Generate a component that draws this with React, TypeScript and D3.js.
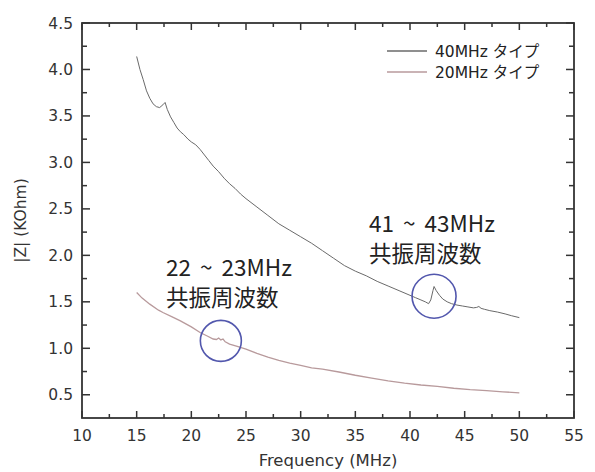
import React from "react";
import * as d3 from "d3";

// 40MHz type impedance curve
const freq40 = [15.0, 15.3, 15.6, 15.9, 16.2, 16.5, 16.8, 17.1, 17.4, 17.6, 17.8, 18.1, 18.4, 18.7, 19.0, 19.3, 19.7, 20.0, 20.4, 20.8, 21.2, 21.6, 22.0, 22.5, 23.0, 23.5, 24.0, 24.5, 25.0, 26.0, 27.0, 28.0, 29.0, 30.0, 31.0, 32.0, 33.0, 34.0, 35.0, 36.0, 37.0, 38.0, 39.0, 40.0, 40.5, 41.0, 41.4, 41.7, 41.9, 42.1, 42.2, 42.4, 42.7, 43.0, 43.4, 43.8, 44.3, 44.8, 45.3, 45.8, 46.1, 46.3, 46.5, 46.8, 47.3, 48.0, 48.7, 49.3, 50.0];
const z40 = [4.14, 4.0, 3.89, 3.77, 3.69, 3.63, 3.6, 3.59, 3.62, 3.645, 3.57, 3.49, 3.43, 3.37, 3.33, 3.3, 3.25, 3.22, 3.19, 3.14, 3.08, 3.02, 2.96, 2.9, 2.83, 2.77, 2.72, 2.66, 2.61, 2.52, 2.43, 2.34, 2.27, 2.2, 2.13, 2.05, 1.97, 1.89, 1.83, 1.78, 1.72, 1.67, 1.62, 1.57, 1.545, 1.52, 1.5, 1.48, 1.52, 1.62, 1.665, 1.62, 1.57, 1.53, 1.5, 1.48, 1.465, 1.455, 1.445, 1.435, 1.44, 1.45, 1.43, 1.42, 1.405, 1.39, 1.37, 1.35, 1.33];

// 20MHz type impedance curve
const freq20 = [15.0, 15.5, 16.2, 17.0, 17.4, 18.2, 19.0, 20.0, 20.8, 21.5, 22.0, 22.3, 22.5, 22.7, 22.9, 23.1, 23.5, 24.2, 25.0, 26.0, 27.0, 28.0, 29.0, 30.0, 31.0, 32.0, 33.5, 35.0, 36.5, 38.0, 39.5, 41.0, 42.5, 44.0, 45.5, 47.0, 48.5, 50.0];
const z20 = [1.6, 1.54, 1.475, 1.41, 1.385, 1.34, 1.295, 1.23, 1.17, 1.13, 1.1, 1.095, 1.11, 1.09, 1.1, 1.07, 1.045, 1.02, 0.99, 0.945, 0.905, 0.87, 0.84, 0.815, 0.79, 0.775, 0.745, 0.71, 0.68, 0.65, 0.625, 0.605, 0.59, 0.57, 0.555, 0.545, 0.532, 0.52];

const seriesNames = ["40MHz タイプ", "20MHz タイプ"];
const seriesColors = ["#6a6a6a", "#b89a9c"];

// resonance circles
const markFreq = [42.2, 22.7];
const markZ = [1.56, 1.08];
const markRadius = [22, 20.5];
const noteTop = ["41 ~ 43MHz", "22 ~ 23MHz"];
const noteBottom = ["共振周波数", "共振周波数"];

const xTicks = [10, 15, 20, 25, 30, 35, 40, 45, 50, 55];
const xMinor = [12.5, 17.5, 22.5, 27.5, 32.5, 37.5, 42.5, 47.5, 52.5];
const yTicks = [0.5, 1.0, 1.5, 2.0, 2.5, 3.0, 3.5, 4.0, 4.5];
const yMinor = [0.75, 1.25, 1.75, 2.25, 2.75, 3.25, 3.75, 4.25];

const W = 595, H = 472;
const left = 82, right = 574, top = 23, bottom = 418;
const axisColor = "#333";
const tickFont = "'DejaVu Sans', Verdana, sans-serif";
const cjkFont = "'Noto Sans CJK JP', sans-serif";

export default function App() {
  const x = d3.scaleLinear().domain([10, 55]).range([left, right]);
  const y = d3.scaleLinear().domain([0.25, 4.5]).range([bottom, top]);

  const path40 = d3.line<number>().x((d) => x(d)).y((_, i) => y(z40[i]))(freq40);
  const path20 = d3.line<number>().x((d) => x(d)).y((_, i) => y(z20[i]))(freq20);

  const noteX = [369, 166];
  const noteY = [232, 276];
  const noteGap = [30, 30];

  return (
    <svg width={W} height={H} style={{ position: "absolute", left: 0, top: 0, background: "#fff" }}>
      {/* curves */}
      <path d={path20 || ""} fill="none" stroke={seriesColors[1]} strokeWidth={1.3} />
      <path d={path40 || ""} fill="none" stroke={seriesColors[0]} strokeWidth={1} />

      {/* resonance circles */}
      {markFreq.map((f, i) => (
        <circle key={"c" + i} cx={x(f)} cy={y(markZ[i])} r={markRadius[i]}
          fill="none" stroke="#5257ad" strokeWidth={1.6} />
      ))}

      {/* annotations */}
      {noteTop.map((t, i) => (
        <text key={"n" + i} fontFamily={cjkFont} fontSize={22.5} fill="#222">
          <tspan x={noteX[i]} y={noteY[i]} wordSpacing={4}>{t}</tspan>
          <tspan x={noteX[i]} y={noteY[i] + noteGap[i]}>{noteBottom[i]}</tspan>
        </text>
      ))}

      {/* legend */}
      {seriesNames.map((s, i) => (
        <g key={"l" + i}>
          <line x1={387} x2={427} y1={51 + i * 21} y2={51 + i * 21}
            stroke={seriesColors[i]} strokeWidth={1.3} />
          <text x={435} y={56.5 + i * 21.5} fontSize={15.5} fill="#222"
            fontFamily={`${tickFont}, 'Noto Sans CJK JP'`}>{s}</text>
        </g>
      ))}

      {/* frame */}
      <rect x={left} y={top} width={right - left} height={bottom - top}
        fill="none" stroke={axisColor} strokeWidth={1.8} />

      {/* x ticks */}
      {xTicks.map((t) => (
        <g key={"xt" + t} stroke={axisColor} strokeWidth={1.5}>
          <line x1={x(t)} x2={x(t)} y1={bottom} y2={bottom - 7} />
          <line x1={x(t)} x2={x(t)} y1={top} y2={top + 7} />
        </g>
      ))}
      {xMinor.map((t) => (
        <g key={"xm" + t} stroke={axisColor} strokeWidth={1.5}>
          <line x1={x(t)} x2={x(t)} y1={bottom} y2={bottom - 4} />
          <line x1={x(t)} x2={x(t)} y1={top} y2={top + 4} />
        </g>
      ))}
      {xTicks.map((t) => (
        <text key={"xl" + t} x={x(t)} y={441} textAnchor="middle"
          fontFamily={tickFont} fontSize={15.5} fill="#333">{t}</text>
      ))}

      {/* y ticks */}
      {yTicks.map((t) => (
        <g key={"yt" + t} stroke={axisColor} strokeWidth={1.5}>
          <line x1={left} x2={left + 8} y1={y(t)} y2={y(t)} />
          <line x1={right} x2={right - 8} y1={y(t)} y2={y(t)} />
        </g>
      ))}
      {yMinor.map((t) => (
        <g key={"ym" + t} stroke={axisColor} strokeWidth={1.5}>
          <line x1={left} x2={left + 5} y1={y(t)} y2={y(t)} />
          <line x1={right} x2={right - 5} y1={y(t)} y2={y(t)} />
        </g>
      ))}
      {yTicks.map((t) => (
        <text key={"yl" + t} x={73} y={y(t) + 5.5} textAnchor="end"
          fontFamily={tickFont} fontSize={15.5} fill="#333">{t.toFixed(1)}</text>
      ))}

      {/* axis titles */}
      <text x={(left + right) / 2} y={466} textAnchor="middle"
        fontFamily={tickFont} fontSize={16.5} fill="#333">Frequency (MHz)</text>
      <text transform={`translate(26, ${(top + bottom) / 2}) rotate(-90)`} textAnchor="middle"
        fontFamily={tickFont} fontSize={15.5} fill="#333">|Z| (KOhm)</text>
    </svg>
  );
}
